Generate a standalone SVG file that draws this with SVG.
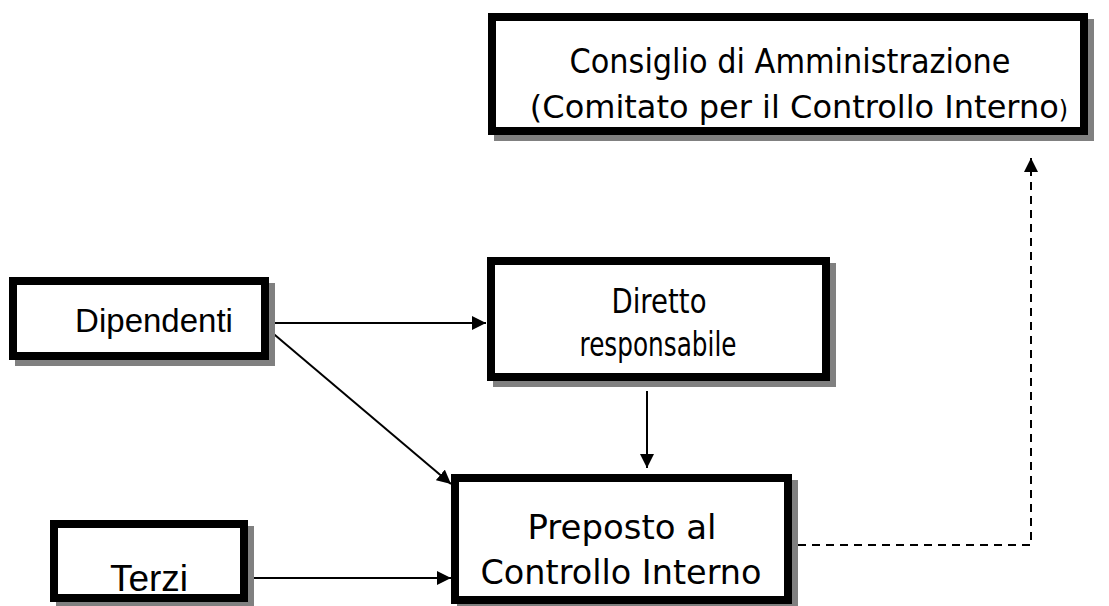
<svg xmlns="http://www.w3.org/2000/svg" width="1109" height="606" viewBox="0 0 1109 606">
<style>
.box{fill:#fff;stroke:#000;stroke-width:8}
.sh{fill:#808080}
.t{font-family:"DejaVu Sans",Verdana,sans-serif;fill:#000;text-anchor:middle}
.a{font-family:"Liberation Sans",Arial,sans-serif;fill:#000;text-anchor:middle}
.c{fill:none;stroke:#000;stroke-width:2}
.d{fill:none;stroke:#000;stroke-width:2;stroke-dasharray:8 6}
</style>
<defs>
<marker id="ah" markerUnits="userSpaceOnUse" markerWidth="16" markerHeight="14" refX="14" refY="7" orient="auto">
<path d="M0,0 L14,7 L0,14 Z" fill="#000"/>
</marker>
</defs>
<rect width="1109" height="606" fill="#fff"/>
<g id="connectors">
<line class="c" x1="269" y1="323" x2="486" y2="323" marker-end="url(#ah)"/>
<line class="c" x1="269" y1="330" x2="451" y2="484" marker-end="url(#ah)"/>
<line class="c" x1="647" y1="391" x2="647" y2="468" marker-end="url(#ah)"/>
<line class="c" x1="248" y1="578" x2="451" y2="578" marker-end="url(#ah)"/>
<polyline class="d" points="798,545 1031,545 1031,158" marker-end="url(#ah)"/>
</g>
<g id="consiglio">
<rect class="sh" x="494" y="19" width="600" height="122"/>
<rect class="box" x="492" y="17" width="592" height="114"/>
<text class="t" x="790" y="73" font-size="34" textLength="441" lengthAdjust="spacingAndGlyphs">Consiglio di Amministrazione</text>
<text class="t" x="799" y="118" font-size="32">(Comitato per il Controllo Interno<tspan font-size="24">)</tspan></text>
</g>
<g id="dipendenti">
<rect class="sh" x="15" y="283" width="260" height="83"/>
<rect class="box" x="13" y="281" width="252" height="75"/>
<text class="a" x="154" y="332" font-size="33">Dipendenti</text>
</g>
<g id="diretto">
<rect class="sh" x="493" y="263" width="343" height="124"/>
<rect class="box" x="491" y="261" width="335" height="116"/>
<text class="t" x="659" y="313" font-size="34" textLength="95" lengthAdjust="spacingAndGlyphs">Diretto</text>
<text class="t" x="658" y="356" font-size="34" textLength="157" lengthAdjust="spacingAndGlyphs">responsabile</text>
</g>
<g id="terzi">
<rect class="sh" x="56" y="526" width="198" height="80"/>
<rect class="box" x="54" y="524" width="190" height="74"/>
<text class="a" x="149" y="591" font-size="37">Terzi</text>
</g>
<g id="preposto">
<rect class="sh" x="457" y="480" width="341" height="130"/>
<rect class="box" x="455" y="478" width="333" height="122"/>
<text class="t" x="622" y="539" font-size="33" textLength="189" lengthAdjust="spacingAndGlyphs">Preposto al</text>
<text class="t" x="621" y="584" font-size="33" textLength="281" lengthAdjust="spacingAndGlyphs">Controllo Interno</text>
</g>
</svg>
